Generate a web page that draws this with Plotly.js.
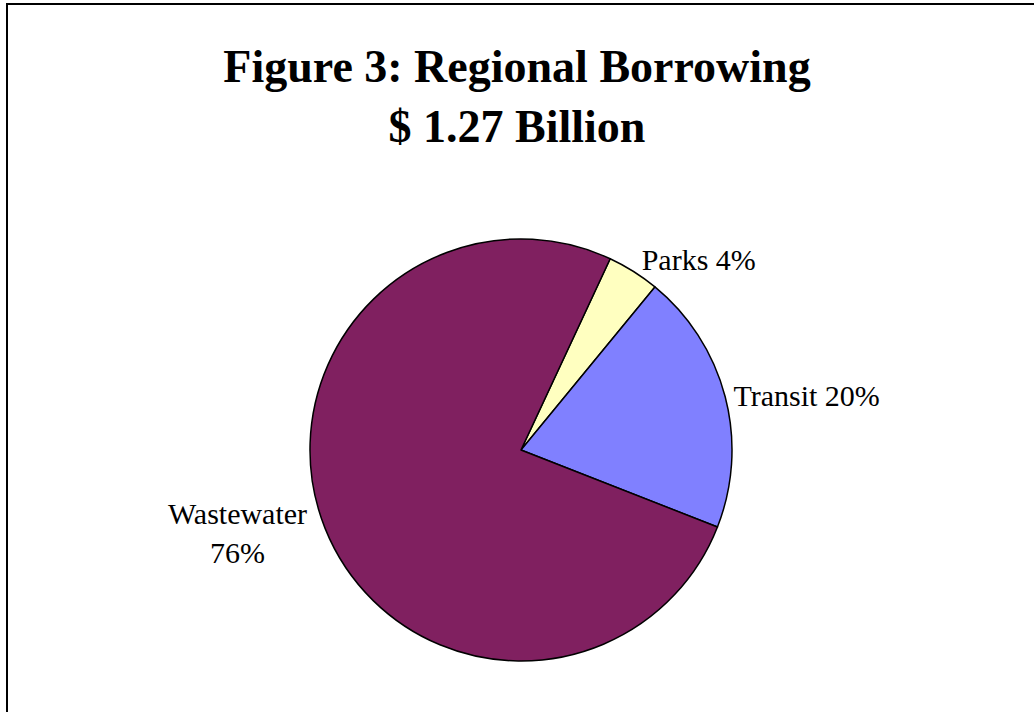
<!DOCTYPE html>
<html>
<head>
<meta charset="utf-8">
<script src="https://cdn.plot.ly/plotly-3.0.1.min.js"></script>
<style>
html,body{margin:0;padding:0;background:#fff;}
#chart{width:1034px;height:712px;}
</style>
</head>
<body>
<div id="chart"></div>
<script>
var categories = ["Parks", "Transit", "Wastewater"];
var shares = [4, 20, 76];
var sliceColors = ["#FFFFC0", "#8080FF", "#802060"];
var labelTemplates = ["%{label} %{percent}", "%{label} %{percent}", "%{label}<br>%{percent}"];
var titleLines = ["Figure 3: Regional Borrowing", "$ 1.27 Billion"];

var W = 1034, H = 712;
var cx = 521, cy = 450, R = 211;

var trace = {
  type: "pie",
  labels: categories,
  values: shares,
  sort: false,
  direction: "clockwise",
  rotation: 25,
  marker: {colors: sliceColors, line: {color: "#000000", width: 1.5}},
  textposition: "outside",
  texttemplate: labelTemplates,
  textfont: {family: "Liberation Serif, Times New Roman, serif", size: 30, color: "#000000"},
  hoverinfo: "label+percent",
  showlegend: false,
  domain: {x: [(cx - R) / W, (cx + R) / W], y: [1 - (cy + R) / H, 1 - (cy - R) / H]}
};

var layout = {
  width: W, height: H,
  margin: {l: 0, r: 0, t: 0, b: 0},
  paper_bgcolor: "#ffffff",
  showlegend: false,
  title: {
    text: "<b>" + titleLines.join("<br>") + "</b>",
    font: {family: "Liberation Serif, Times New Roman, serif", size: 46, color: "#000000"},
    x: 0.5, xanchor: "center",
    y: 1 - 82 / H, yanchor: "top", yref: "container"
  },
  shapes: [{
    type: "rect", xref: "paper", yref: "paper",
    x0: 7 / W, x1: 1.05, y0: -0.05, y1: 1 - 4 / H,
    line: {color: "#000000", width: 2}, fillcolor: "rgba(0,0,0,0)", layer: "above"
  }]
};

Plotly.newPlot("chart", [trace], layout, {displayModeBar: false, staticPlot: true});
</script>
</body>
</html>
